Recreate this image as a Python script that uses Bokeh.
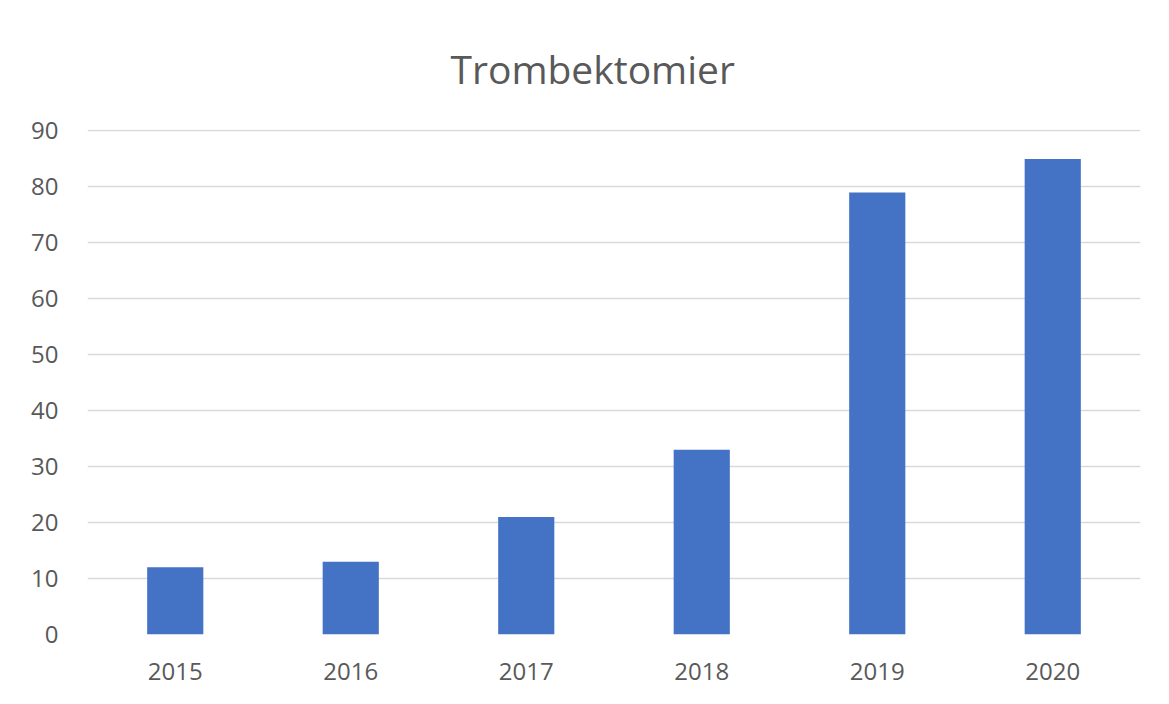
from bokeh.plotting import figure
from bokeh.models import Range1d, FactorRange, ColumnDataSource, FixedTicker, BoxAnnotation
from bokeh.embed import file_html
from bokeh.resources import INLINE

years = ["2015", "2016", "2017", "2018", "2019", "2020"]
values = [12, 13, 21, 33, 79, 85]
y_ticks = [0, 10, 20, 30, 40, 50, 60, 70, 80, 90]
title_text = "Trombektomier"

FONT = "Open Sans"
TXT = "#595959"

src = ColumnDataSource(dict(x=years, top=values))

p = figure(width=1161, height=696, x_range=FactorRange(*years, range_padding=0),
           y_range=Range1d(0, 90.25), output_backend="svg", toolbar_location=None,
           min_border_left=87, min_border_right=21, min_border_top=129, min_border_bottom=62)

p.vbar(x="x", top="top", width=0.32, source=src, color="#4472C4", line_color=None)

# chart-area border (spreadsheet chart box)
box = BoxAnnotation(left=10, right=1400, top=13, bottom=1000,
                    left_units="canvas", right_units="canvas",
                    top_units="canvas", bottom_units="canvas",
                    fill_alpha=0, line_color="#d9d9d9", line_width=1.5, level="underlay")
p.add_layout(box)

p.title.text = title_text
p.title.text_font = FONT
p.title.text_font_size = "39px"
p.title.text_font_style = "normal"
p.title.text_color = TXT
p.title.align = "left"
p.title.offset = 363
p.title.standoff = 70

p.outline_line_color = None
p.xgrid.grid_line_color = None
p.ygrid.grid_line_color = "#d9d9d9"
p.ygrid.grid_line_width = 1.5
p.yaxis.ticker = FixedTicker(ticks=y_ticks)

for ax in (p.xaxis, p.yaxis):
    ax.axis_line_color = None
    ax.major_tick_line_color = None
    ax.minor_tick_line_color = None
    ax.major_label_text_font = FONT
    ax.major_label_text_font_size = "24px"
    ax.major_label_text_color = TXT

p.yaxis.major_label_standoff = 23
p.xaxis.major_label_standoff = 22

open("out.html", "w").write(file_html(p, INLINE))
